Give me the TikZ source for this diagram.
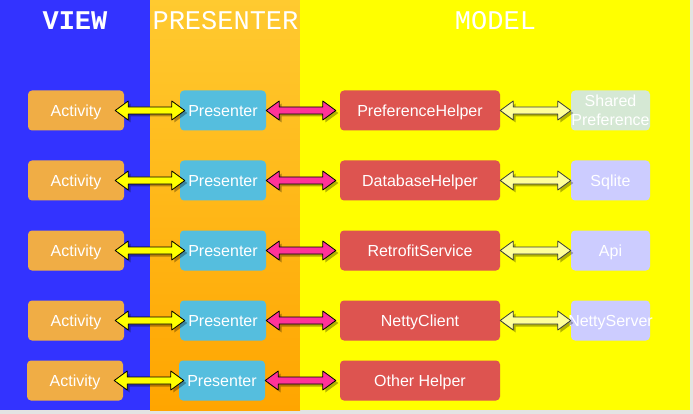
\documentclass[tikz,border=0pt]{standalone}
\usepackage{fontspec}
\setmainfont{Liberation Sans}
\newfontfamily\titlefont{Liberation Mono}
\usetikzlibrary{calc,shadows}
\definecolor{viewblue}{HTML}{3333FF}
\definecolor{presorangetop}{HTML}{FFCA30}
\definecolor{presorangebot}{HTML}{FFA500}
\definecolor{modelyellow}{HTML}{FFFF00}
\definecolor{actorange}{HTML}{F0AD45}
\definecolor{presblue}{HTML}{55BEDE}
\definecolor{helperred}{HTML}{DD5450}
\definecolor{sharedgreen}{HTML}{D5E8D4}
\definecolor{storeblue}{HTML}{CCCCFF}
\definecolor{arrowpink}{HTML}{FF3399}
\definecolor{arrowpale}{HTML}{FFFF99}
\definecolor{paleline}{HTML}{36393D}
% double block arrow between two points on one row
\newcommand\biarrow[3]{%
  \path[#1] let \p1=(#2), \p2=(#3) in
    (\p1) -- (\x1+13pt,\y1+9.5pt) -- (\x1+13pt,\y1+3.5pt) -- (\x2-13pt,\y1+3.5pt)
    -- (\x2-13pt,\y1+9.5pt) -- (\p2) -- (\x2-13pt,\y1-9.5pt) -- (\x2-13pt,\y1-3.5pt)
    -- (\x1+13pt,\y1-3.5pt) -- (\x1+13pt,\y1-9.5pt) -- cycle;}
\begin{document}
\begin{tikzpicture}[x=1pt,y=-1pt,line join=round,font=\fontsize{16}{19}\selectfont,
  title/.style={text=white,inner sep=0pt,anchor=base,font=\titlefont\fontsize{27}{27}\selectfont},
  box/.style={rounded corners=4pt,minimum height=40pt,inner sep=0pt,text=white,text height=11.5pt,text depth=0pt},
  act/.style={box,fill=actorange,minimum width=96pt},
  pres/.style={box,fill=presblue,minimum width=86pt},
  helper/.style={box,fill=helperred,minimum width=160pt},
  store/.style={box,fill=storeblue,minimum width=79pt},
  arrowshadow/.style={drop shadow={shadow xshift=2.5pt,shadow yshift=-2.5pt,opacity=.3,fill=black}},
  yarrow/.style={fill=modelyellow,draw=black,line width=.8pt,arrowshadow},
  parrow/.style={fill=arrowpink,draw=black,line width=.8pt,arrowshadow},
  larrow/.style={fill=arrowpale,draw=paleline,line width=.8pt,arrowshadow}]
\useasboundingbox (0,0) rectangle (693,414);
% layers
\fill[gray!22] (0,0) rectangle (693,414);
\fill[viewblue] (0,0) rectangle (150,410);
\shade[top color=presorangetop,bottom color=presorangebot] (150,0) rectangle (300,410);
\fill[modelyellow] (300,0) rectangle (690,410);
\node[title,font=\titlefont\bfseries\fontsize{27}{27}\selectfont] (viewtitle) at (75,29.5) {VIEW};
\node[title] (prestitle) at (225.5,29.5) {PRESENTER};
\node[title] (modeltitle) at (495.5,29.5) {MODEL};
% rows
\foreach \r/\y/\dx/\h in {1/110.5/0/PreferenceHelper,2/180.5/0/DatabaseHelper,3/250.5/0/RetrofitService,4/320.5/0/NettyClient,5/380.5/-1/Other Helper}{
  \node[act] (act\r) at (76+\dx,\y) {Activity};
  \node[pres] (pres\r) at (223+\dx,\y) {Presenter};
  \node[helper] (help\r) at (420,\y) {\h};
  \biarrow{yarrow}{$(act\r.east)+(-9,0)$}{$(pres\r.west)+(5,0)$}
  \biarrow{parrow}{pres\r.east}{$(help\r.west)+(-4,0)$}
}
\node[store,fill=sharedgreen,text height=,text depth=,align=center,inner xsep=-4.4pt] (store1) at (610.5,110.5) {Shared\\Preference};
\node[store] (store2) at (610.5,180.5) {Sqlite};
\node[store] (store3) at (610.5,250.5) {Api};
\node[store,inner xsep=-2.8pt] (store4) at (610.5,320.5) {NettyServer};
\foreach \r in {1,...,4}
  \biarrow{larrow}{help\r.east}{store\r.west};
\end{tikzpicture}
\end{document}
